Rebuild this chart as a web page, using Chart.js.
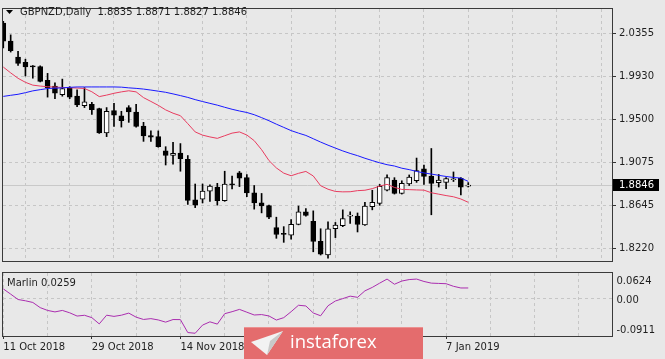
<!DOCTYPE html>
<html>
<head>
<meta charset="utf-8">
<script src="https://cdn.jsdelivr.net/npm/chart.js@4.4.0/dist/chart.umd.min.js"></script>
<style>
html,body{margin:0;padding:0;background:#e8e8e8;}
#wrap{position:relative;width:665px;height:359px;overflow:hidden;background:#e8e8e8;}
.pane{position:absolute;left:0;}
</style>
</head>
<body>
<div id="wrap">
  <div class="pane" style="top:0;width:665px;height:270px;"><canvas id="main" width="665" height="270"></canvas></div>
  <div class="pane" style="top:270px;width:665px;height:89px;"><canvas id="ind" width="665" height="89"></canvas></div>
</div>
<script>
// ---------- DATA (GBPNZD Daily, 11 Oct 2018 - 10 Jan 2019) ----------
const symbolTitle = 'GBPNZD,Daily';
const open  = [2.0456,2.0277,2.0120,2.0067,2.0032,2.0025,1.9888,1.9831,1.9746,1.9810,1.9731,1.9636,1.9649,1.9608,1.9366,1.9587,1.9536,1.9617,1.9573,1.9432,1.9338,1.9328,1.9187,1.9140,1.9165,1.9102,1.8700,1.8706,1.8786,1.8826,1.8691,1.8855,1.8967,1.8920,1.8769,1.8669,1.8642,1.8424,1.8367,1.8349,1.8456,1.8581,1.8487,1.8286,1.8151,1.8412,1.8443,1.8537,1.8537,1.8449,1.8631,1.8664,1.8795,1.8895,1.8763,1.8857,1.8889,1.9008,1.8936,1.8870,1.8873,1.8899,1.8914,1.8835];
const high  = [2.0475,2.0340,2.0176,2.0098,2.0035,2.0032,1.9957,1.9862,1.9900,1.9825,1.9794,1.9815,1.9668,1.9611,1.9617,1.9658,1.9580,1.9636,1.9649,1.9470,1.9385,1.9385,1.9228,1.9272,1.9259,1.9140,1.8857,1.8857,1.8848,1.8864,1.8984,1.8936,1.8982,1.8951,1.8842,1.8763,1.8647,1.8527,1.8433,1.8503,1.8638,1.8612,1.8590,1.8412,1.8480,1.8475,1.8600,1.8581,1.8569,1.8675,1.8795,1.8853,1.8947,1.8920,1.8889,1.8947,1.9115,1.9046,1.9210,1.8952,1.8920,1.8977,1.8920,1.8871];
const low   = [2.0211,2.0169,2.0035,1.9931,1.9909,1.9872,1.9721,1.9705,1.9730,1.9705,1.9627,1.9617,1.9549,1.9360,1.9328,1.9429,1.9423,1.9470,1.9423,1.9281,1.9281,1.9223,1.9046,1.9053,1.8984,1.8654,1.8622,1.8669,1.8685,1.8647,1.8685,1.8808,1.8831,1.8732,1.8607,1.8570,1.8512,1.8317,1.8277,1.8308,1.8451,1.8537,1.8183,1.8151,1.8120,1.8324,1.8433,1.8465,1.8380,1.8444,1.8600,1.8645,1.8789,1.8757,1.8757,1.8842,1.8873,1.8852,1.8551,1.8827,1.8810,1.8882,1.8748,1.8827];
const close = [2.0277,2.0183,2.0057,2.0020,2.0020,1.9878,1.9815,1.9761,1.9806,1.9721,1.9643,1.9673,1.9596,1.9366,1.9580,1.9542,1.9486,1.9573,1.9429,1.9335,1.9323,1.9228,1.9140,1.9162,1.9109,1.8694,1.8647,1.8786,1.8836,1.8691,1.8855,1.8849,1.8916,1.8769,1.8669,1.8638,1.8527,1.8355,1.8355,1.8456,1.8581,1.8544,1.8286,1.8160,1.8412,1.8449,1.8512,1.8542,1.8454,1.8638,1.8675,1.8833,1.8920,1.8763,1.8864,1.8927,1.8990,1.8933,1.8864,1.8895,1.8911,1.8905,1.8826,1.8846];
// red (fast) moving average
const maFast = [2.0020,1.9962,1.9908,1.9868,1.9840,1.9831,1.9824,1.9821,1.9817,1.9814,1.9811,1.9807,1.9774,1.9726,1.9741,1.9759,1.9773,1.9784,1.9773,1.9716,1.9678,1.9639,1.9594,1.9561,1.9536,1.9457,1.9375,1.9343,1.9325,1.9311,1.9337,1.9363,1.9375,1.9344,1.9288,1.9198,1.9090,1.9017,1.8965,1.8939,1.8963,1.8982,1.8937,1.8840,1.8805,1.8783,1.8779,1.8780,1.8791,1.8795,1.8811,1.8836,1.8854,1.8823,1.8803,1.8801,1.8798,1.8796,1.8770,1.8756,1.8742,1.8730,1.8708,1.8675];
// blue (slow) moving average
const maSlow = [1.9728,1.9739,1.9749,1.9765,1.9783,1.9795,1.9806,1.9810,1.9813,1.9818,1.9822,1.9822,1.9822,1.9822,1.9822,1.9822,1.9820,1.9813,1.9808,1.9801,1.9791,1.9780,1.9769,1.9753,1.9736,1.9718,1.9696,1.9677,1.9659,1.9641,1.9620,1.9600,1.9583,1.9568,1.9546,1.9517,1.9486,1.9452,1.9420,1.9388,1.9363,1.9340,1.9307,1.9274,1.9243,1.9214,1.9186,1.9161,1.9139,1.9113,1.9090,1.9068,1.9049,1.9036,1.9014,1.9000,1.8982,1.8967,1.8956,1.8943,1.8932,1.8922,1.8916,1.8883];
// Marlin oscillator
const marlin = [0.0237,0.0109,-0.0022,-0.0053,-0.0094,-0.0220,-0.0288,-0.0324,-0.0288,-0.0346,-0.0425,-0.0406,-0.0464,-0.0616,-0.0404,-0.0433,-0.0404,-0.0353,-0.0452,-0.0508,-0.0488,-0.0520,-0.0573,-0.0510,-0.0512,-0.0827,-0.0844,-0.0645,-0.0566,-0.0621,-0.0367,-0.0319,-0.0263,-0.0331,-0.0399,-0.0389,-0.0423,-0.0522,-0.0464,-0.0319,-0.0162,-0.0179,-0.0350,-0.0418,-0.0174,-0.0058,0.0000,0.0060,0.0031,0.0189,0.0273,0.0377,0.0476,0.0350,0.0428,0.0464,0.0476,0.0418,0.0377,0.0370,0.0363,0.0300,0.0259,0.0259];
const priceTicks = [2.0355,1.9930,1.9500,1.9075,1.8645,1.8220];
const marlinTicks = [0.0624,0.00,-0.0911];
const dateTickIndex = [0,12,24,60];
const dateTickText = ['11 Oct 2018','29 Oct 2018','14 Nov 2018','7 Jan 2019'];
const gridIndex = [0,6,12,18,24,30,36,42,48,54,60,66,72,78];

// ---------- STYLE / LAYOUT ----------
const FONT = 'DejaVu Sans';
const gridColor = '#c6c6c6';
const frameColor = '#3a3a3a';
const textColor = '#1e1e1e';
const xMin = -0.04, xMax = 82.48;
const priceMin = 1.80914, priceMax = 2.05971;

const idx = open.map((_, i) => i);
const last = open.length - 1;

function drawFrame(chart){
  const {ctx, chartArea:a} = chart;
  ctx.save();
  ctx.strokeStyle = frameColor; ctx.lineWidth = 1;
  const l = Math.round(a.left) - 0.5, t = Math.round(a.top) - 0.5;
  const r = Math.round(a.right) + 0.5, b = Math.round(a.bottom) + 0.5;
  ctx.strokeRect(l, t, r - l, b - t);
  ctx.restore();
}

const mainPlugin = {
  id: 'mainDeco',
  beforeDatasetsDraw(chart){
    const {ctx, chartArea:a, scales} = chart;
    const y = Math.round(scales.y.getPixelForValue(close[last])) + 0.5;
    ctx.save();
    ctx.strokeStyle = '#c9c9c9'; ctx.lineWidth = 1;
    ctx.beginPath(); ctx.moveTo(a.left, y); ctx.lineTo(a.right, y); ctx.stroke();
    ctx.restore();
  },
  afterDraw(chart){
    const {ctx, chartArea:a, scales} = chart;
    drawFrame(chart);
    ctx.save();
    // current price box
    const y = scales.y.getPixelForValue(close[last]);
    ctx.fillStyle = '#000';
    ctx.fillRect(613, Math.round(y) - 6, 46, 12);
    ctx.fillStyle = '#fff';
    ctx.font = '10px "' + FONT + '"';
    ctx.textBaseline = 'middle'; ctx.textAlign = 'left';
    ctx.fillText(close[last].toFixed(4), 619, Math.round(y));
    // title
    ctx.fillStyle = '#000';
    ctx.beginPath(); ctx.moveTo(6, 10); ctx.lineTo(13, 10); ctx.lineTo(9.5, 14); ctx.closePath(); ctx.fill();
    ctx.fillStyle = textColor;
    ctx.fillText(symbolTitle + '  ' + [open[last], high[last], low[last], close[last]].map(v => v.toFixed(4)).join(' '), 20, 12);
    ctx.restore();
  }
};

const indPlugin = {
  id: 'indDeco',
  afterDraw(chart){
    const {ctx, chartArea:a, scales} = chart;
    drawFrame(chart);
    ctx.save();
    ctx.font = '10px "' + FONT + '"';
    ctx.fillStyle = textColor;
    ctx.textBaseline = 'middle'; ctx.textAlign = 'left';
    ctx.fillText('Marlin ' + marlin[last].toFixed(4), 7, 13);
    // right scale labels
    ctx.fillText(marlinTicks[0].toFixed(4), 616.5, a.top + 8.7);
    ctx.fillText(marlinTicks[1].toFixed(2), 616.5, scales.y.getPixelForValue(0) + 1.5);
    ctx.fillText(marlinTicks[2].toFixed(4), 616.5, a.bottom - 6);
    // watermark
    ctx.fillStyle = '#e46c6d';
    ctx.fillRect(244, 57, 179, 32);
    ctx.fillStyle = 'rgba(255,255,255,0.25)';
    ctx.fillRect(244, 57, 179, 1);
    ctx.fillStyle = '#f2f2f2';
    ctx.beginPath(); ctx.moveTo(251, 72); ctx.lineTo(283, 61); ctx.lineTo(267, 85); ctx.closePath(); ctx.fill();
    ctx.fillStyle = '#c9c9c9';
    ctx.beginPath(); ctx.moveTo(267, 85); ctx.lineTo(270, 71); ctx.lineTo(283, 61); ctx.closePath(); ctx.fill();
    ctx.fillStyle = '#ffffff';
    ctx.font = '18.5px "Open Sans"';
    ctx.textBaseline = 'alphabetic';
    ctx.fillText('instaforex', 290, 78);
    ctx.restore();
  }
};

new Chart(document.getElementById('main'), {
  type: 'bar',
  data: {
    datasets: [
      { type:'line', data: idx.map(i => ({x:i, y:maSlow[i]})), borderColor:'rgb(25,25,255)', borderWidth:1, pointRadius:0, tension:0, order:0 },
      { type:'line', data: idx.map(i => ({x:i, y:maFast[i]})), borderColor:'rgb(232,60,95)', borderWidth:1, pointRadius:0, tension:0, order:0 },
      { type:'bar', data: idx.map(i => ({x:i, y:[open[i], close[i]]})),
        backgroundColor: c => (close[c.dataIndex] >= open[c.dataIndex] ? '#ffffff' : '#000000'),
        borderColor:'#000', borderWidth:1, borderSkipped:false, barThickness:5, minBarLength:1, grouped:false, order:2 },
      { type:'bar', data: idx.map(i => ({x:i, y:[low[i], high[i]]})),
        backgroundColor:'#000', borderWidth:0, barThickness:1, grouped:false, order:3 }
    ]
  },
  options: {
    responsive:false, animation:false, devicePixelRatio:1,
    layout:{padding:{top:2, left:3, right:0, bottom:2}},
    plugins:{legend:{display:false}, tooltip:{enabled:false}},
    scales:{
      x:{ type:'linear', min:xMin, max:xMax, offset:false,
          afterBuildTicks: s => { s.ticks = gridIndex.map(v => ({value:v})); },
          afterFit: s => { s.height = 0; },
          ticks:{display:false},
          grid:{color:gridColor, lineWidth:1, drawTicks:false},
          border:{display:false, dash:[3,3]} },
      y:{ position:'right', min:priceMin, max:priceMax,
          afterBuildTicks: s => { s.ticks = priceTicks.map(v => ({value:v})); },
          afterFit: s => { s.width = 53; },
          ticks:{ autoSkip:false, padding:3, color:textColor, font:{family:FONT, size:10},
                  callback: v => Number(v).toFixed(4) },
          grid:{color:gridColor, lineWidth:1, tickLength:4, tickColor:'#333', tickBorderDash:[]},
          border:{display:false, dash:[3,3]} }
    }
  },
  plugins:[mainPlugin]
});

new Chart(document.getElementById('ind'), {
  type: 'line',
  data: {
    datasets: [
      { data: idx.map(i => ({x:i, y:marlin[i]})), borderColor:'rgb(170,45,175)', borderWidth:1, pointRadius:0, tension:0 }
    ]
  },
  options: {
    responsive:false, animation:false, devicePixelRatio:1,
    layout:{padding:{top:3, left:3, right:0, bottom:0}},
    plugins:{legend:{display:false}, tooltip:{enabled:false}},
    scales:{
      x:{ type:'linear', min:xMin, max:xMax, offset:false,
          afterBuildTicks: s => { s.ticks = gridIndex.map(v => ({value:v})); },
          afterFit: s => { s.height = 23; },
          ticks:{ autoSkip:false, maxRotation:0, minRotation:0, align:'start', padding:2,
                  color:textColor, font:{family:FONT, size:10},
                  callback: v => { const k = dateTickIndex.indexOf(v); return k >= 0 ? dateTickText[k] : ''; } },
          grid:{ color:gridColor, lineWidth:1, tickLength:3, tickBorderDash:[],
                 tickColor: c => (c.tick && dateTickIndex.includes(c.tick.value) ? '#333' : 'rgba(0,0,0,0)') },
          border:{display:false, dash:[3,3]} },
      y:{ position:'right', min:marlinTicks[2], max:marlinTicks[0],
          afterBuildTicks: s => { s.ticks = [{value:0}]; },
          afterFit: s => { s.width = 53; },
          ticks:{display:false},
          grid:{color:gridColor, lineWidth:1, drawTicks:false},
          border:{display:false, dash:[3,3]} }
    }
  },
  plugins:[indPlugin]
});
</script>
</body>
</html>
